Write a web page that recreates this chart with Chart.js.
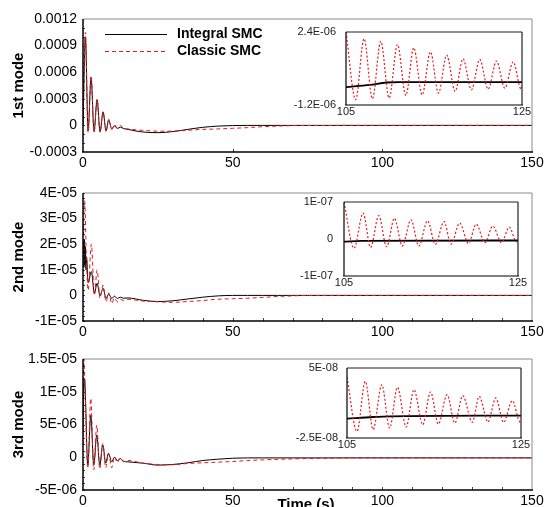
<!DOCTYPE html>
<html>
<head>
<meta charset="utf-8">
<script src="https://cdn.jsdelivr.net/npm/chart.js@4.4.1/dist/chart.umd.min.js"></script>
<style>
  body { margin: 0; background: #fff; }
  #wrap { position: relative; width: 545px; height: 507px; overflow: hidden; }
  canvas { position: absolute; }
</style>
</head>
<body>
<div id="wrap">
  <canvas id="mode1Chart" width="545" height="172" style="left:0;top:0"></canvas>
  <canvas id="mode2Chart" width="545" height="170" style="left:0;top:172px"></canvas>
  <canvas id="mode3Chart" width="545" height="165" style="left:0;top:342px"></canvas>
  <canvas id="zoom1Chart" width="275" height="115" style="left:270px;top:22px"></canvas>
  <canvas id="zoom2Chart" width="275" height="110" style="left:270px;top:192px"></canvas>
  <canvas id="zoom3Chart" width="275" height="100" style="left:270px;top:358px"></canvas>
</div>
<script>
// main plots, 0-150 s
const mode1Time = [0, 0.8, 1.7, 2.7, 3.7, 4.7, 5.7, 6.7, 7.7, 8.6, 9.6, 10.5, 11.5, 12.5, 13.5, 15, 18, 22, 25, 30, 35, 40, 45, 50, 55, 60, 70, 80, 90, 100, 110, 120, 130, 140, 150];
const mode1Integral = [0, 1.0e-3, -6e-5, 5.4e-4, -7e-5, 2.9e-4, -7e-5, 1.5e-4, -6e-5, 6e-5, -4e-5, -5e-6, -3.5e-5, -2e-5, -3.5e-5, -4.5e-5, -6.5e-5, -8e-5, -8.2e-5, -7e-5, -4.5e-5, -2.2e-5, -8e-6, -2e-6, 0, 0, 0, 0, 0, 0, 0, 0, 0, 0, 0];
const mode1Classic = [0, 1.05e-3, -8e-5, 5.6e-4, -8e-5, 3.0e-4, -8e-5, 1.6e-4, -7e-5, 7e-5, -5e-5, 1e-5, -3e-5, 0, -3e-5, -4e-5, -5e-5, -6e-5, -6.5e-5, -6.5e-5, -5.5e-5, -4.5e-5, -4e-5, -3.3e-5, -2.5e-5, -1.5e-5, -3e-6, -1e-6, 0, 0, 0, 0, 0, 0, 0];

const mode2Time = [0, 0.2, 0.35, 0.5, 0.65, 0.8, 1.0, 1.2, 1.7, 2.8, 3.8, 4.7, 5.7, 6.7, 7.7, 8.6, 9.6, 10.5, 11.5, 12.5, 13.5, 15, 20, 25, 30, 35, 40, 45, 50, 55, 60, 65, 70, 75, 80, 90, 100, 110, 120, 130, 140, 150];
const mode2Integral = [1.5e-5, 2.1e-5, 1.1e-5, 2.2e-5, 1.2e-5, 1.9e-5, 1.0e-5, 1.5e-5, 5e-6, 9.3e-6, 0.8e-6, 4.7e-6, -0.2e-6, 2.8e-6, -1.1e-6, 0.5e-6, -1.2e-6, -0.3e-6, -1.2e-6, -0.7e-6, -1.1e-6, -1e-6, -1.9e-6, -2.4e-6, -2.1e-6, -1.4e-6, -0.7e-6, -0.2e-6, 0, 0, 0, 0, 0, 0, 0, 0, 0, 0, 0, 0, 0, 0];
const mode2Classic = [1.5e-5, 2.6e-5, 3.3e-5, 3.7e-5, 3.6e-5, 3.0e-5, 2.0e-5, 1.2e-5, 2e-6, 2.0e-5, 0, 1.0e-5, -1e-6, 4e-6, -2.5e-6, 1e-6, -3.2e-6, -1e-6, -2.5e-6, -1.5e-6, -2e-6, -1.5e-6, -2.2e-6, -2.5e-6, -2.7e-6, -2.4e-6, -2e-6, -1.5e-6, -1.3e-6, -1.1e-6, -0.8e-6, -0.4e-6, -0.2e-6, 0, 0, 0, 0, 0, 0, 0, 0, 0];

const mode3Time = [0, 0.3, 0.5, 1.6, 2.6, 3.6, 4.6, 5.6, 6.6, 7.6, 8.5, 9.6, 10.5, 11.5, 12.5, 13.5, 15, 20, 25, 30, 35, 40, 45, 50, 55, 60, 70, 80, 90, 100, 110, 120, 130, 140, 150];
const mode3Integral = [4e-6, 1.1e-5, 1.2e-5, -1.2e-6, 6.4e-6, -1.2e-6, 3.4e-6, -1.2e-6, 1.9e-6, -0.9e-6, 0.6e-6, -0.7e-6, 0, -0.5e-6, -0.2e-6, -0.6e-6, -0.7e-6, -0.9e-6, -1.2e-6, -1.1e-6, -0.85e-6, -0.5e-6, -0.3e-6, -0.15e-6, -0.1e-6, -0.1e-6, -0.1e-6, -0.1e-6, -0.1e-6, -0.1e-6, -0.1e-6, -0.1e-6, -0.1e-6, -0.1e-6, -0.1e-6];
const mode3Classic = [2e-6, 1.5e-5, 1.3e-5, -1.7e-6, 9e-6, -1.95e-6, 4.9e-6, -1.8e-6, 2.1e-6, -1.6e-6, 0.6e-6, -1.6e-6, 0.1e-6, -0.8e-6, -0.1e-6, -0.7e-6, -0.5e-6, -0.9e-6, -1.1e-6, -1.15e-6, -0.95e-6, -0.85e-6, -0.75e-6, -0.65e-6, -0.5e-6, -0.4e-6, -0.25e-6, -0.15e-6, -0.1e-6, -0.1e-6, -0.1e-6, -0.1e-6, -0.1e-6, -0.1e-6, -0.1e-6];

// zoomed windows, 105-125 s
const zoom1ClassicTime = [105, 106.1, 107.05, 108.0, 108.95, 109.9, 110.85, 111.8, 112.7, 113.65, 114.6, 115.5, 116.45, 117.4, 118.3, 119.25, 120.2, 121.15, 122.1, 123.05, 124.0, 124.9, 125];
const zoom1Classic = [2.4e-6, -0.94e-6, 2.07e-6, -0.89e-6, 1.94e-6, -0.86e-6, 1.78e-6, -0.73e-6, 1.62e-6, -0.7e-6, 1.42e-6, -0.61e-6, 1.26e-6, -0.53e-6, 1.08e-6, -0.45e-6, 1.05e-6, -0.42e-6, 0.97e-6, -0.37e-6, 0.93e-6, -0.42e-6, -0.3e-6];
const zoom1IntegralTime = [105, 107.7, 109.6, 111, 125];
const zoom1Integral = [-3.2e-7, -2.1e-7, -0.9e-7, -0.7e-7, -0.7e-7];

const zoom2ClassicTime = [105, 106.15, 107.2, 108.05, 109.0, 109.9, 110.8, 111.7, 112.7, 113.6, 114.6, 115.5, 116.5, 117.3, 118.3, 119.3, 120.2, 121.2, 122.1, 123.1, 124.0, 124.8, 125];
const zoom2Classic = [1e-7, -2.5e-8, 7e-8, -2.3e-8, 6.3e-8, -2.1e-8, 5.6e-8, -1.9e-8, 5.2e-8, -1.9e-8, 4.9e-8, -1.4e-8, 4.7e-8, -1.4e-8, 4.3e-8, -1.2e-8, 4e-8, -1e-8, 3.5e-8, -1e-8, 3.2e-8, -0.7e-8, -0.5e-8];
const zoom2IntegralTime = [105, 107, 125];
const zoom2Integral = [-7e-9, -5e-9, -4e-9];

const zoom3ClassicTime = [105, 106.15, 107.1, 108.0, 109.0, 109.9, 110.8, 111.8, 112.7, 113.7, 114.6, 115.5, 116.5, 117.4, 118.3, 119.4, 120.2, 121.2, 122.1, 123.0, 124.0, 124.9, 125];
const zoom3Classic = [4e-8, -1.79e-8, 3.57e-8, -1.6e-8, 3.2e-8, -1.43e-8, 2.93e-8, -1.32e-8, 2.68e-8, -1.07e-8, 2.43e-8, -1e-8, 2.14e-8, -0.89e-8, 2.04e-8, -0.82e-8, 1.96e-8, -0.79e-8, 1.79e-8, -0.82e-8, 1.5e-8, -0.79e-8, -0.7e-8];
const zoom3IntegralTime = [105, 108, 110, 125];
const zoom3Integral = [-4.3e-9, -2.5e-9, -1.8e-9, -1e-9];

// ticks
const timeTicks = [0, 50, 100, 150];
const zoomTimeTicks = [105, 125];
const mode1Ticks = [-0.0003, 0, 0.0003, 0.0006, 0.0009, 0.0012];
const mode2Ticks = [-1e-5, 0, 1e-5, 2e-5, 3e-5, 4e-5];
const mode3Ticks = [-5e-6, 0, 5e-6, 1e-5, 1.5e-5];
const zoom1Ticks = [-1.2e-6, 2.4e-6];
const zoom2Ticks = [-1e-7, 0, 1e-7];
const zoom3Ticks = [-2.5e-8, 5e-8];

const FONT = "'Liberation Sans', Arial, sans-serif";
const RED = "#e41a1c";

function toPoints(times, values) {
  return times.map((t, i) => ({ x: t, y: values[i] }));
}

function plainLabel(v) {
  return v === 0 ? "0" : v.toFixed(4);
}

function sciLabel(v) {
  if (v === 0) return "0";
  const [m, e] = v.toExponential(1).replace(".0e", "e").split("e");
  const exp = Math.abs(parseInt(e, 10)).toString().padStart(2, "0");
  return m + "E" + (e.startsWith("-") ? "-" : "+") + exp;
}

function line(ctx, x1, y1, x2, y2) {
  ctx.beginPath();
  ctx.moveTo(x1, y1);
  ctx.lineTo(x2, y2);
  ctx.stroke();
}

const framePlugin = {
  id: "frame",
  beforeDraw(chart, args, opts) {
    if (!opts.fill) return;
    const { ctx, chartArea: a } = chart;
    ctx.save();
    ctx.fillStyle = "#fff";
    ctx.fillRect(a.left, a.top, a.right - a.left, a.bottom - a.top);
    ctx.restore();
  },
  afterDraw(chart, args, opts) {
    const { ctx, chartArea: a, scales } = chart;
    ctx.save();
    ctx.strokeStyle = "#444";
    ctx.lineWidth = 1;
    if (opts.xMinor) {
      const n = Math.round((scales.x.max - scales.x.min) / opts.xMinor);
      for (let k = 1; k < n; k++) {
        const px = Math.round(scales.x.getPixelForValue(scales.x.min + k * opts.xMinor)) + 0.5;
        line(ctx, px, a.bottom, px, a.bottom - 3);
      }
    }
    if (opts.yMinor) {
      const k0 = Math.ceil(scales.y.min / opts.yMinor);
      const k1 = Math.floor(scales.y.max / opts.yMinor);
      for (let k = k0; k <= k1; k++) {
        const py = Math.round(scales.y.getPixelForValue(k * opts.yMinor)) + 0.5;
        line(ctx, a.left, py, a.left + 2, py);
      }
    }
    // top/right edges are lighter than the axes
    ctx.strokeStyle = opts.edge;
    ctx.lineWidth = opts.edgeWidth;
    line(ctx, a.left, a.top, a.right, a.top);
    line(ctx, a.right, a.top, a.right, a.bottom);
    ctx.strokeStyle = "#000";
    ctx.lineWidth = opts.axisWidth;
    line(ctx, a.left, a.top, a.left, a.bottom);
    line(ctx, a.left - 1, a.bottom, a.right + 1, a.bottom);
    ctx.restore();
  },
};

const keyPlugin = {
  id: "key",
  afterDraw(chart) {
    const ctx = chart.ctx;
    const sets = chart.data.datasets;
    const rows = [sets[1], sets[0]];
    ctx.save();
    ctx.font = "bold 14px " + FONT;
    ctx.textBaseline = "middle";
    rows.forEach((ds, i) => {
      const y = 34 + i * 17;
      ctx.strokeStyle = ds.borderColor;
      ctx.lineWidth = 1;
      ctx.setLineDash(ds.borderDash || []);
      line(ctx, 105, y + 0.5, 167, y + 0.5);
      ctx.setLineDash([]);
      ctx.fillStyle = "#000";
      ctx.fillText(ds.label, 177, y);
    });
    ctx.restore();
  },
};

const timeTitlePlugin = {
  id: "timeTitle",
  afterDraw(chart) {
    const ctx = chart.ctx;
    ctx.save();
    ctx.font = "bold 15px " + FONT;
    ctx.fillStyle = "#000";
    ctx.textAlign = "center";
    ctx.textBaseline = "top";
    ctx.fillText("Time (s)", 306, 155);
    ctx.restore();
  },
};

function drawChart(id, cfg) {
  const canvas = document.getElementById(id);
  const W = canvas.width;
  const H = canvas.height;
  const [left, top, right, bottom] = cfg.area;
  const tickFont = { family: FONT, size: cfg.fontSize };

  return new Chart(canvas, {
    type: "line",
    data: { datasets: cfg.datasets },
    options: {
      responsive: false,
      animation: false,
      devicePixelRatio: 1,
      layout: { padding: { left: 0, top: top, right: W - right, bottom: 0 } },
      elements: {
        point: { radius: 0 },
        line: { cubicInterpolationMode: "monotone" },
      },
      plugins: {
        legend: { display: false },
        tooltip: { enabled: false },
        frame: cfg.frame,
      },
      scales: {
        x: {
          type: "linear",
          min: cfg.xRange[0],
          max: cfg.xRange[1],
          afterBuildTicks: (axis) => {
            axis.ticks = cfg.xTicks.map((v) => ({ value: v }));
          },
          afterFit: (axis) => {
            axis.height = H - bottom;
            axis.paddingLeft = 0;
            axis.paddingRight = 0;
          },
          grid: { display: false, drawTicks: false },
          border: { display: false },
          ticks: {
            autoSkip: false,
            maxRotation: 0,
            padding: cfg.xPad,
            color: cfg.labelColor,
            font: tickFont,
          },
        },
        y: {
          type: "linear",
          min: cfg.yRange[0],
          max: cfg.yRange[1],
          afterBuildTicks: (axis) => {
            axis.ticks = cfg.yTicks.map((v) => ({ value: v }));
          },
          afterFit: (axis) => {
            axis.width = left;
            axis.paddingTop = 0;
            axis.paddingBottom = 0;
          },
          grid: { display: false, drawTicks: false },
          border: { display: false },
          ticks: {
            autoSkip: false,
            padding: cfg.yPad,
            color: cfg.labelColor,
            font: tickFont,
            callback: cfg.yFormat,
          },
          title: {
            display: !!cfg.yTitle,
            text: cfg.yTitle || "",
            color: "#000",
            font: { family: FONT, size: 15, weight: "bold", lineHeight: 1.2 },
            padding: { top: 10, bottom: 0 },
          },
        },
      },
    },
    plugins: [framePlugin].concat(cfg.extra || []),
  });
}

function mainSets(time, integral, classic) {
  return [
    {
      label: "Classic SMC",
      data: toPoints(time, classic),
      borderColor: RED,
      borderWidth: 1,
      borderDash: [4, 3],
    },
    {
      label: "Integral SMC",
      data: toPoints(time, integral),
      borderColor: "#000",
      borderWidth: 1,
    },
  ];
}

function zoomSets(cTime, classic, iTime, integral) {
  return [
    {
      label: "Classic SMC",
      data: toPoints(cTime, classic),
      borderColor: RED,
      borderWidth: 1.2,
      borderDash: [2, 2],
    },
    {
      label: "Integral SMC",
      data: toPoints(iTime, integral),
      borderColor: "#000",
      borderWidth: 1.8,
    },
  ];
}

const mainFrame = (yMinor, xMinor) => ({
  edge: "#8a8a8a", edgeWidth: 1, axisWidth: 1.5, xMinor: xMinor, yMinor: yMinor,
});
const zoomFrame = { fill: true, edge: "#222", edgeWidth: 1.2, axisWidth: 1.2 };

const mainCommon = {
  xRange: [0, 150], xTicks: timeTicks, fontSize: 14, xPad: 3, yPad: 6, labelColor: "#000",
};
const zoomCommon = {
  xRange: [105, 125], xTicks: zoomTimeTicks, fontSize: 11, xPad: 0, labelColor: "#222",
  yFormat: sciLabel,
};

drawChart("mode1Chart", Object.assign({}, mainCommon, {
  area: [83, 19, 532, 152],
  datasets: mainSets(mode1Time, mode1Integral, mode1Classic),
  yRange: [-0.0003, 0.0012], yTicks: mode1Ticks, yFormat: plainLabel,
  yTitle: "1st mode", frame: mainFrame(0.0001, 50), extra: [keyPlugin],
}));

drawChart("mode2Chart", Object.assign({}, mainCommon, {
  area: [83, 21, 532, 149],
  datasets: mainSets(mode2Time, mode2Integral, mode2Classic),
  yRange: [-1e-5, 4e-5], yTicks: mode2Ticks, yFormat: sciLabel,
  yTitle: "2nd mode", frame: mainFrame(2e-6, 10),
}));

drawChart("mode3Chart", Object.assign({}, mainCommon, {
  area: [83, 17, 532, 148],
  datasets: mainSets(mode3Time, mode3Integral, mode3Classic),
  yRange: [-5e-6, 1.5e-5], yTicks: mode3Ticks, yFormat: sciLabel,
  yTitle: "3rd mode", frame: mainFrame(1e-6, 10), extra: [timeTitlePlugin],
}));

drawChart("zoom1Chart", Object.assign({}, zoomCommon, {
  area: [76, 10, 252, 83], yPad: 10,
  datasets: zoomSets(zoom1ClassicTime, zoom1Classic, zoom1IntegralTime, zoom1Integral),
  yRange: [-1.2e-6, 2.4e-6], yTicks: zoom1Ticks, frame: zoomFrame,
}));

drawChart("zoom2Chart", Object.assign({}, zoomCommon, {
  area: [74, 10, 248, 84], yPad: 11,
  datasets: zoomSets(zoom2ClassicTime, zoom2Classic, zoom2IntegralTime, zoom2Integral),
  yRange: [-1e-7, 1e-7], yTicks: zoom2Ticks, frame: zoomFrame,
}));

drawChart("zoom3Chart", Object.assign({}, zoomCommon, {
  area: [77, 10, 251, 80], yPad: 9,
  datasets: zoomSets(zoom3ClassicTime, zoom3Classic, zoom3IntegralTime, zoom3Integral),
  yRange: [-2.5e-8, 5e-8], yTicks: zoom3Ticks, frame: zoomFrame,
}));
</script>
</body>
</html>
